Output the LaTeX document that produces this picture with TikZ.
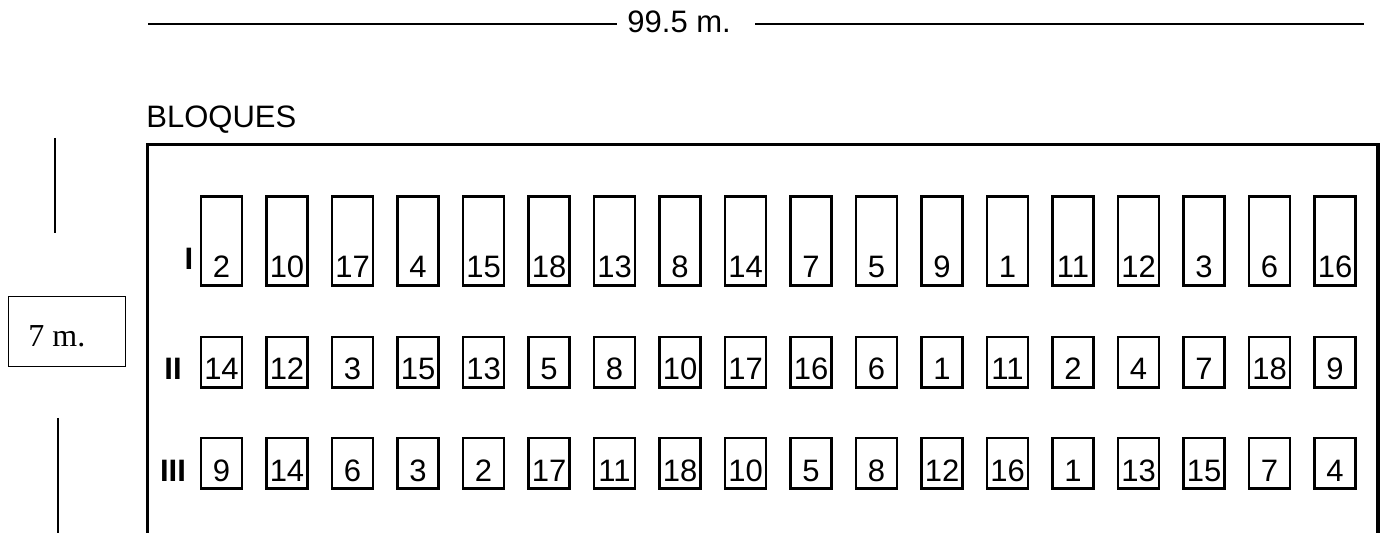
\documentclass[tikz,border=0pt]{standalone}
\usepackage{fontspec}
\setmainfont{Liberation Sans}
\newfontfamily\timesfont{Liberation Serif}
\usetikzlibrary{positioning}

\begin{document}
\begin{tikzpicture}[x=0.5pt, y=-0.5pt,
  every node/.style={font=\fontsize{15.5}{18}\selectfont, inner sep=0pt},
  plot/.style={draw, line width=1.4pt, minimum width=20.5pt, text depth=3.75pt, anchor=base},
  tall/.style={plot, text height=40.75pt},
  short/.style={plot, text height=21.5pt},
  blk/.style={font=\fontsize{15.5}{18}\selectfont\bfseries, anchor=base},
  dim/.style={line width=0.65pt},
  frame/.style={line width=1.6pt}]
\useasboundingbox (0,0) rectangle (1380,533);

% total length
\node[anchor=base west] (len) at (627,33) {99.5 m.};
\coordinate (lenA) at (148,24);
\coordinate (lenB) at (617,24);
\coordinate (lenC) at (755,24);
\coordinate (lenD) at (1364,24);
\draw[line width=1pt] (lenA) -- (lenB);
\draw[line width=1pt] (lenC) -- (lenD);

% width of the field
\node[draw, line width=0.7pt, minimum width=58.5pt, minimum height=34.75pt] (wbox) at (67,331.5) {};
\node[anchor=base west, font=\fontsize{16}{18}\timesfont] (wtxt) at (28,347) {7 m.};
\coordinate (wA) at (55,138);
\coordinate (wB) at (55,233);
\coordinate (wC) at (58,418);
\coordinate (wD) at (58,533);
\draw[dim] (wA) -- (wB);
\draw[dim] (wC) -- (wD);

% blocks
\node[anchor=base west] (title) at (146,128) {BLOQUES};
\draw[frame] (147.5,533) -- (147.5,144.5) -- (1378,144.5) -- (1378,533);

\node[blk] (b1) at (189,270) {I};
\node[blk] (b2) at (173,380) {II};
\node[blk] (b3) at (173,481) {III};

\foreach \n [count=\i] in {2,10,17,4,15,18,13,8,14,7,5,9,1,11,12,3,6,16}
  \node[tall] (a\i) at ({221.5+65.5*(\i-1)},278) {\n};
\foreach \n [count=\i] in {14,12,3,15,13,5,8,10,17,16,6,1,11,2,4,7,18,9}
  \node[short] (b\i) at ({221.5+65.5*(\i-1)},380) {\n};
\foreach \n [count=\i] in {9,14,6,3,2,17,11,18,10,5,8,12,16,1,13,15,7,4}
  \node[short] (c\i) at ({221.5+65.5*(\i-1)},481) {\n};
\end{tikzpicture}
\end{document}
